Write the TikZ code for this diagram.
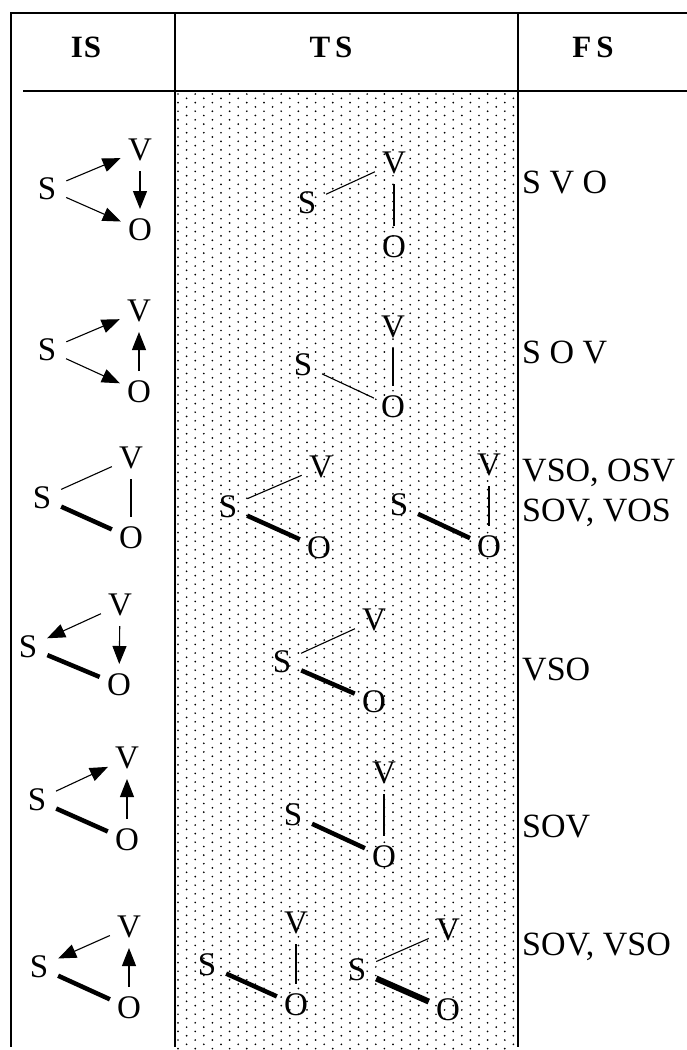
\documentclass[tikz,border=0pt]{standalone}
\usepackage{fontspec}
\setmainfont{Liberation Serif}
\usetikzlibrary{arrows.meta}
\begin{document}
\begin{tikzpicture}[x=1pt,y=-1pt,
  frame/.style={line width=1.8pt},
  lbl/.style={circle,inner sep=0pt,outer sep=0pt,minimum size=42pt,font=\fontsize{33}{33}\selectfont},
  fs/.style={anchor=base west,inner sep=0pt,font=\fontsize{34}{34}\selectfont},
  hd/.style={inner sep=0pt,font=\fontsize{31}{31}\selectfont\bfseries},
  tl/.style={line width=1.1pt},
  kl/.style={line width=4.5pt},
  kkl/.style={line width=6pt},
  arr/.style={line width=1.1pt,-{Triangle[length=18pt,width=14pt]}}]
\useasboundingbox (0,0) rectangle (687,1050);
% dotted shading of the TS column
\begin{scope}
\clip (176,92) rectangle (517,1050);
\foreach \i in {0,...,40}{
  \pgfmathsetmacro{\dx}{178+8.6*\i}
  \pgfmathsetmacro{\dy}{94+4.3*mod(\i,2)}
  \fill[black] \foreach \j in {0,...,112}{ (\dx,{\dy+8.6*\j}) circle (0.95pt) };
}
\end{scope}
% table rules
\draw[frame] (687,13) -- (11,13) -- (11,1047);
\draw[frame] (175,13) -- (175,1047);
\draw[frame] (518,13) -- (518,1047);
\draw[frame] (23,91) -- (687,91);
% headers
\node[hd] (hIS) at (86,47) {I\kern1pt S};
\node[hd] (hTS) at (331,47) {T\kern5pt S};
\node[hd] (hFS) at (593,47) {F\kern5pt S};
% ---------------- IS column ----------------
\node[lbl] (a1s) at (47,189) {S};
\node[lbl] (a1v) at (140,150) {V};
\node[lbl] (a1o) at (140,230) {O};
\draw[arr] (a1s) -- (a1v);
\draw[arr] (a1v) -- (a1o);
\draw[arr] (a1s) -- (a1o);
\node[lbl] (a2s) at (47,350) {S};
\node[lbl] (a2v) at (139,311) {V};
\node[lbl] (a2o) at (139,392) {O};
\draw[arr] (a2s) -- (a2v);
\draw[arr] (a2o) -- (a2v);
\draw[arr] (a2s) -- (a2o);
\node[lbl] (a3s) at (42,498) {S};
\node[lbl] (a3v) at (131,458) {V};
\node[lbl] (a3o) at (131,538) {O};
\draw[tl] (a3s) -- (a3v);
\draw[tl] (a3v) -- (a3o);
\draw[kl] (a3s) -- (a3o);
\node[lbl] (a4s) at (28,647) {S};
\node[lbl] (a4v) at (120,605) {V};
\node[lbl] (a4o) at (119,685) {O};
\draw[arr] (a4v) -- (a4s);
\draw[arr] (a4v) -- (a4o);
\draw[kl] (a4s) -- (a4o);
\node[lbl] (a5s) at (37,800) {S};
\node[lbl] (a5v) at (127,758) {V};
\node[lbl] (a5o) at (127,840) {O};
\draw[arr] (a5s) -- (a5v);
\draw[arr] (a5o) -- (a5v);
\draw[kl] (a5s) -- (a5o);
\node[lbl] (a6s) at (39,967) {S};
\node[lbl] (a6v) at (129,927) {V};
\node[lbl] (a6o) at (129,1008) {O};
\draw[arr] (a6v) -- (a6s);
\draw[arr] (a6o) -- (a6v);
\draw[kl] (a6s) -- (a6o);
% ---------------- TS column ----------------
\node[lbl] (b1s) at (307,203) {S};
\node[lbl] (b1v) at (394,163) {V};
\node[lbl] (b1o) at (394,247) {O};
\draw[tl] (b1s) -- (b1v);
\draw[tl] (b1v) -- (b1o);
\node[lbl] (b2s) at (303,365) {S};
\node[lbl] (b2v) at (393,327) {V};
\node[lbl] (b2o) at (393,407) {O};
\draw[tl] (b2v) -- (b2o);
\draw[tl] (b2s) -- (b2o);
\node[lbl] (b3s) at (228,507) {S};
\node[lbl] (b3v) at (321,467) {V};
\node[lbl] (b3o) at (319,548) {O};
\draw[tl] (b3s) -- (b3v);
\draw[kl] (b3s) -- (b3o);
\node[lbl] (c3s) at (399,505) {S};
\node[lbl] (c3v) at (489,465) {V};
\node[lbl] (c3o) at (489,547) {O};
\draw[tl] (c3v) -- (c3o);
\draw[kl] (c3s) -- (c3o);
\node[lbl] (b4s) at (282,662) {S};
\node[lbl] (b4v) at (374,620) {V};
\node[lbl] (b4o) at (374,702) {O};
\draw[tl] (b4s) -- (b4v);
\draw[kl] (b4s) -- (b4o);
\node[lbl] (b5s) at (293,815) {S};
\node[lbl] (b5v) at (384,773) {V};
\node[lbl] (b5o) at (384,857) {O};
\draw[tl] (b5v) -- (b5o);
\draw[kl] (b5s) -- (b5o);
\node[lbl] (b6s) at (207,965) {S};
\node[lbl] (b6v) at (296,923) {V};
\node[lbl] (b6o) at (296,1005) {O};
\draw[tl] (b6v) -- (b6o);
\draw[kl] (b6s) -- (b6o);
\node[lbl] (c6s) at (357,970) {S};
\node[lbl] (c6v) at (448,930) {V};
\node[lbl] (c6o) at (448,1010) {O};
\draw[tl] (c6s) -- (c6v);
\draw[kkl] (c6s) -- (c6o);
% ---------------- FS column ----------------
\node[fs] (f1) at (522,193.2) {S V O};
\node[fs] (f2) at (522,363.2) {S O V};
\node[fs] (f3) at (522,481.2) {VSO, OSV};
\node[fs] (f3b) at (522,521.2) {SOV, VOS};
\node[fs] (f4) at (522,680.2) {VSO};
\node[fs] (f5) at (522,837.2) {SOV};
\node[fs] (f6) at (522,955.2) {SOV, VSO};
\end{tikzpicture}
\end{document}
